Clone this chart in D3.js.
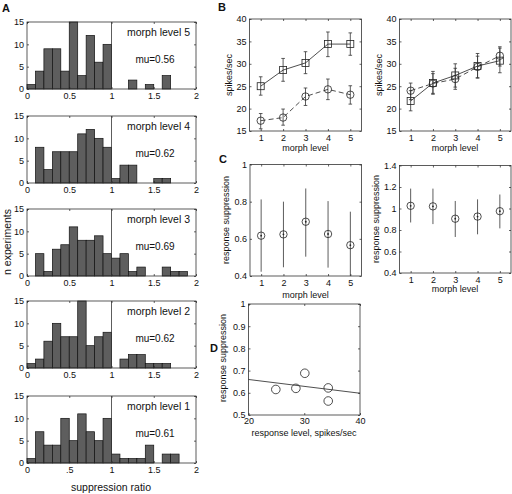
<!DOCTYPE html>
<html><head><meta charset="utf-8">
<script src="https://cdn.jsdelivr.net/npm/d3@7"></script>
<style>
body{margin:0;background:#fff;}
svg{display:block;font-family:"Liberation Sans",Arial,sans-serif;}
.axis path{display:none;}
.axis line{stroke:#222;stroke-width:0.7;}
.axis text{font-size:9px;fill:#111;font-family:"Liberation Sans",Arial,sans-serif;}
</style></head>
<body>
<script>
// ---------- DATA ----------
const binStarts = [0,0.1,0.2,0.3,0.4,0.5,0.6,0.7,0.8,0.9,1.0,1.1,1.2,1.3,1.4,1.5,1.6,1.7,1.8,1.9];
const binWidth = 0.1;
const histLevels = ["morph level 5","morph level 4","morph level 3","morph level 2","morph level 1"];
const histMu = ["mu=0.56","mu=0.62","mu=0.69","mu=0.62","mu=0.61"];
const countsL5 = [1,4,9,9,4,15,3,12,6,10,0,0,2,0,1,0,3,0,0,0];
const countsL4 = [0,8,3,7,7,7,11,12,10,8,1,4,4,0,0,1,1,0,0,0];
const countsL3 = [0,5,1,6,7,11,8,8,9,5,4,5,1,2,0,0,2,1,1,0];
const countsL2 = [1,2,6,10,7,7,15,5,7,8,0,2,3,3,1,1,1,0,0,0];
const countsL1 = [1,7,4,4,10,5,11,7,5,10,2,1,1,1,4,0,2,2,0,0];
const histCounts = [countsL5,countsL4,countsL3,countsL2,countsL1];
const histXTicks = [0,0.5,1,1.5,2];
const histXLabels = ["0","0.5","1","1.5","2"];
const histXLabelsLast = ["0",".5","1","1.5","2"];
const histYTicks = [0,5,10,15];

const morphLevels = [1,2,3,4,5];
// B left
const bLeftSq = [25.0,28.6,30.2,34.4,34.4];
const bLeftSqLo = [23.0,26.1,27.8,31.6,31.9];
const bLeftSqHi = [27.1,31.2,32.7,37.1,36.9];
const bLeftCi = [17.3,18.0,22.7,24.3,23.1];
const bLeftCiLo = [15.5,16.3,20.7,22.0,21.0];
const bLeftCiHi = [18.9,19.9,24.6,26.6,25.1];
// B right
const bRightSq = [21.7,25.7,27.4,29.5,30.7];
const bRightSqLo = [19.5,23.2,24.8,26.8,28.0];
const bRightSqHi = [24.0,28.3,30.0,32.3,33.5];
const bRightCi = [24.0,25.6,26.6,29.3,31.8];
const bRightCiLo = [22.0,23.4,24.3,26.9,29.5];
const bRightCiHi = [25.7,27.8,29.0,31.7,33.8];
const bYTicks = [15,20,25,30,35,40];
// C left
const cLeft = [0.617,0.624,0.692,0.626,0.566];
const cLeftLo = [0.423,0.447,0.504,0.445,0.39];
const cLeftHi = [0.812,0.800,0.871,0.803,0.746];
const cLeftYTicks = [0.4,0.6,0.8,1];
// C right
const cRight = [1.025,1.020,0.905,0.925,0.975];
const cRightLo = [0.870,0.855,0.735,0.760,0.815];
const cRightHi = [1.185,1.185,1.070,1.085,1.130];
const cRightYTicks = [0.4,0.6,0.8,1,1.2,1.4];
// D
const dX = [24.9,28.5,30.1,34.3,34.3];
const dY = [0.615,0.620,0.688,0.622,0.563];
const dFitX = [20,40];
const dFitY = [0.660,0.598];
const dXTicks = [20,30,40];
const dYTicks = [0.5,0.6,0.7,0.8,0.9,1];

// ---------- DRAW ----------
const svg = d3.select("body").append("svg").attr("width",512).attr("height",494);
const INK = "#111";

function frame(x0,x1,y0,y1){
  svg.append("rect").attr("x",x0).attr("y",y0).attr("width",x1-x0).attr("height",y1-y0)
    .attr("fill","none").attr("stroke","#333").attr("stroke-width",0.8);
}
function axes(xs,ys,xt,xl,yt,yl,opt={}){
  const [x0,x1]=xs.range(), [y1,y0]=ys.range();
  frame(x0,x1,y0,y1);
  const bx = d3.axisBottom(xs).tickValues(xt).tickSize(-2).tickPadding(opt.xpad||4)
     .tickFormat((d,i)=>xl?xl[i]:d3.format("~g")(d));
  svg.append("g").attr("class","axis").attr("transform",`translate(0,${y1})`).call(bx);
  const tx = d3.axisTop(xs).tickValues(xt).tickSize(-2).tickFormat("");
  svg.append("g").attr("class","axis").attr("transform",`translate(0,${y0})`).call(tx);
  const ly = d3.axisLeft(ys).tickValues(yt).tickSize(-2).tickPadding(opt.ypad||3)
     .tickFormat((d,i)=>yl?yl[i]:d3.format("~g")(d));
  svg.append("g").attr("class","axis").attr("transform",`translate(${x0},0)`).call(ly);
  const ry = d3.axisRight(ys).tickValues(yt).tickSize(-2).tickFormat("");
  svg.append("g").attr("class","axis").attr("transform",`translate(${x1},0)`).call(ry);
}
function label(txt,x,y,opt={}){
  const t = svg.append("text").text(txt).attr("x",x).attr("y",y)
    .attr("font-size",opt.size||9).attr("fill",INK)
    .attr("text-anchor",opt.anchor||"middle");
  if(opt.bold) t.attr("font-weight","bold");
  if(opt.rot) t.attr("transform",`rotate(-90,${x},${y})`);
  return t;
}

// ---- Panel A ----
const histTops = [22,116,209,301,396];
const histH = 67;
histCounts.forEach((counts,i)=>{
  const top = histTops[i];
  const xs = d3.scaleLinear([0,2],[27,196]);
  const ys = d3.scaleLinear([0,15],[top+histH,top]);
  const data = binStarts.map((s,j)=>({s,c:counts[j]})).filter(d=>d.c>0);
  svg.append("g").selectAll("rect").data(data).join("rect")
    .attr("x",d=>xs(d.s)).attr("width",d=>xs(d.s+binWidth)-xs(d.s))
    .attr("y",d=>ys(d.c)).attr("height",d=>ys(0)-ys(d.c))
    .attr("fill","#5e5e5e").attr("stroke","#111").attr("stroke-width",0.7);
  axes(xs,ys,histXTicks,i===4?histXLabelsLast:histXLabels,histYTicks,null,{xpad:4,ypad:3});
  svg.append("line").attr("x1",xs(1)).attr("x2",xs(1)).attr("y1",ys(0)).attr("y2",ys(15))
    .attr("stroke","#333").attr("stroke-width",0.8);
  label(histLevels[i],190,top+14,{anchor:"end",size:10.5});
  label(histMu[i],155,top+41,{size:10});
});
label("A",2,12,{anchor:"start",bold:true,size:11});
label("n experiments",11,242,{rot:true,size:10.5});
label("suppression ratio",111,491,{size:10.5});

// ---- Panel B ----
function errorSeries(xs,ys,vals,lo,hi,marker,dashed,cap){
  const pts = morphLevels.map((m,i)=>({m,v:vals[i],lo:lo[i],hi:hi[i]}));
  const g = svg.append("g");
  g.selectAll("line.eb").data(pts).join("line").attr("class","eb")
    .attr("x1",d=>xs(d.m)).attr("x2",d=>xs(d.m))
    .attr("y1",d=>ys(Math.max(d.lo,ys.domain()[0]))).attr("y2",d=>ys(d.hi))
    .attr("stroke","#333").attr("stroke-width",0.8);
  if(cap){
    ["lo","hi"].forEach(k=>{
      g.selectAll("line.cap"+k).data(pts).join("line").attr("class","cap"+k)
        .attr("x1",d=>xs(d.m)-1.8).attr("x2",d=>xs(d.m)+1.8)
        .attr("y1",d=>ys(d[k])).attr("y2",d=>ys(d[k]))
        .attr("stroke","#333").attr("stroke-width",0.8);
    });
  }
  if(dashed!==null){
    g.append("path").datum(pts)
      .attr("d",d3.line().x(d=>xs(d.m)).y(d=>ys(d.v)))
      .attr("fill","none").attr("stroke","#222").attr("stroke-width",0.8)
      .attr("stroke-dasharray",dashed?"5,3":null);
  }
  if(marker==="sq"){
    g.selectAll("rect").data(pts).join("rect")
      .attr("x",d=>xs(d.m)-3.5).attr("y",d=>ys(d.v)-3.5).attr("width",7).attr("height",7)
      .attr("fill","none").attr("stroke","#222").attr("stroke-width",0.8);
  } else if(marker==="ci"){
    g.selectAll("circle").data(pts).join("circle")
      .attr("cx",d=>xs(d.m)).attr("cy",d=>ys(d.v)).attr("r",3.7)
      .attr("fill","none").attr("stroke","#222").attr("stroke-width",0.8);
  } else {
    g.selectAll("circle.o").data(pts).join("circle").attr("class","o")
      .attr("cx",d=>xs(d.m)).attr("cy",d=>ys(d.v)).attr("r",3.7)
      .attr("fill","none").attr("stroke","#222").attr("stroke-width",0.8);
    g.selectAll("circle.d").data(pts).join("circle").attr("class","d")
      .attr("cx",d=>xs(d.m)).attr("cy",d=>ys(d.v)).attr("r",0.9).attr("fill","#222");
  }
}
const xBL = d3.scaleLinear([0.5,5.5],[249.5,361.5]);
const yB = d3.scaleLinear([15,40],[131,19]);
axes(xBL,yB,morphLevels,null,bYTicks,null,{xpad:4,ypad:3});
errorSeries(xBL,yB,bLeftSq,bLeftSqLo,bLeftSqHi,"sq",false,true);
errorSeries(xBL,yB,bLeftCi,bLeftCiLo,bLeftCiHi,"ci",true,true);
label("spikes/sec",232,75,{rot:true});
label("morph level",305.5,151);
label("B",218,11,{anchor:"start",bold:true,size:11});

const xBR = d3.scaleLinear([0.5,5.5],[399.5,511]);
const yBR = d3.scaleLinear([15,40],[131,19]);
axes(xBR,yBR,morphLevels,null,bYTicks,null,{xpad:4,ypad:3});
errorSeries(xBR,yBR,bRightSq,bRightSqLo,bRightSqHi,"sq",false,true);
errorSeries(xBR,yBR,bRightCi,bRightCiLo,bRightCiHi,"ci",true,true);
label("spikes/sec",382,75,{rot:true});
label("morph level",455,151);

// ---- Panel C ----
const xCL = d3.scaleLinear([0.5,5.5],[250,361.5]);
const yCL = d3.scaleLinear([0.4,1],[276,164.5]);
axes(xCL,yCL,morphLevels,null,cLeftYTicks,null,{xpad:4,ypad:3});
errorSeries(xCL,yCL,cLeft,cLeftLo,cLeftHi,"dot",null,false);
label("response suppression",229,220,{rot:true});
label("morph level",305.5,298);
label("C",219,163,{anchor:"start",bold:true,size:11});

const xCR = d3.scaleLinear([0.5,5.5],[399.5,511]);
const yCR = d3.scaleLinear([0.4,1.4],[273,165.5]);
axes(xCR,yCR,morphLevels,null,cRightYTicks,null,{xpad:4,ypad:3});
errorSeries(xCR,yCR,cRight,cRightLo,cRightHi,"dot",null,false);
label("response suppression",379,219,{rot:true});
label("morph level",455,292);

// ---- Panel D ----
const xD = d3.scaleLinear([20,40],[248.5,360]);
const yD = d3.scaleLinear([0.5,1],[415,304]);
axes(xD,yD,dXTicks,null,dYTicks,null,{xpad:3,ypad:3});
svg.append("path").datum(dFitX.map((x,i)=>[x,dFitY[i]]))
  .attr("d",d3.line().x(d=>xD(d[0])).y(d=>yD(d[1])))
  .attr("fill","none").attr("stroke","#222").attr("stroke-width",0.8);
svg.append("g").selectAll("circle").data(dX.map((x,i)=>[x,dY[i]])).join("circle")
  .attr("cx",d=>xD(d[0])).attr("cy",d=>yD(d[1])).attr("r",4.3)
  .attr("fill","none").attr("stroke","#222").attr("stroke-width",0.8);
label("response suppression",226,358,{rot:true});
label("response level, spikes/sec",304,436);
label("D",210,352,{anchor:"start",bold:true,size:11});
</script>
</body></html>
